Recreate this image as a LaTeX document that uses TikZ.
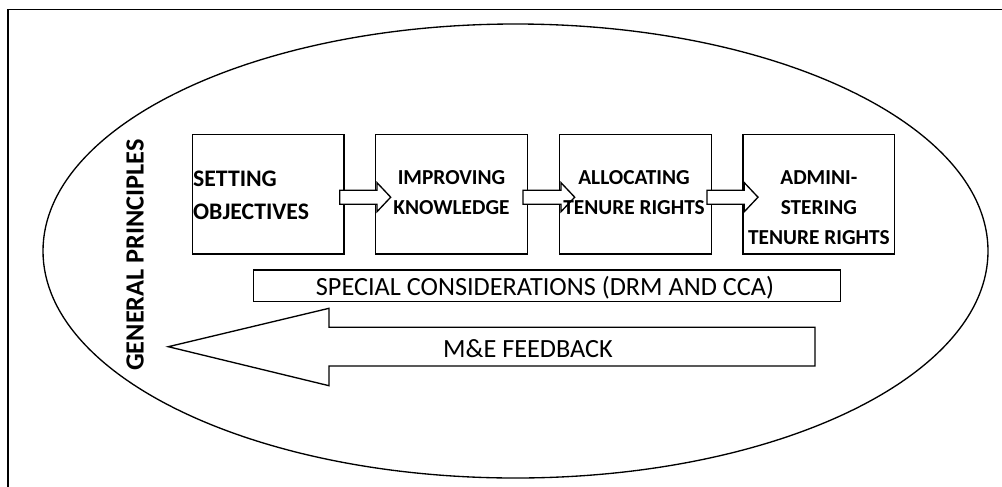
\documentclass[tikz,border=0pt]{standalone}
\usepackage{fontspec}
\setmainfont{Carlito}
\usetikzlibrary{shapes.geometric,calc}
\begin{document}
\begin{tikzpicture}[x=0.75pt,y=-0.75pt,line width=1pt,
  stagebox/.style={draw,rectangle,anchor=north west,minimum width=113.8pt,minimum height=89.5pt,inner sep=0pt},
  stagetext/.style={inner sep=0pt,align=center,font=\bfseries\fontsize{16}{22.5}\selectfont},
  barrow/.style={draw,fill=white,line join=miter},
  plaintext/.style={inner sep=0pt,font=\fontsize{19.7}{24}\selectfont}]
\clip (0,0) rectangle (1002,486);
\fill[white] (0,0) rectangle (1002,486);
\draw[line width=1.1pt] (8,9.5) rectangle (1030,530);
\node[draw,ellipse,minimum width=708.75pt,minimum height=340.5pt,inner sep=0pt] (gp) at (515.5,251) {};
% stage boxes
\node[stagebox] (b1) at (191.7,134) {};
\node[stagebox] (b2) at (375,134) {};
\node[stagebox] (b3) at (559,134) {};
\node[stagebox] (b4) at (742.3,134) {};
% block arrows between stages
\foreach \a/\b in {b1/b2,b2/b3,b3/b4}{
  \draw[barrow] ($(\a.east)+(-5,-4.15)$) -- ($(\b.west)+(2,-4.15)$) -- ($(\b.west)+(2,-11.65)$)
    -- ($(\b.west)+(15.7,2.85)$) -- ($(\b.west)+(2,17.35)$) -- ($(\b.west)+(2,9.85)$)
    -- ($(\a.east)+(-5,9.85)$) -- cycle;
}
% stage texts
\node[stagetext,anchor=north west,align=left,font=\bfseries\fontsize{17.8}{24.75}\selectfont] (t1) at (192.5,170) {SETTING\\OBJECTIVES};
\node[stagetext,anchor=north] (t2) at ($(b2.north)+(0,36)$) {IMPROVING\\KNOWLEDGE};
\node[stagetext,anchor=north] (t3) at ($(b3.north)+(-1.5,36)$) {ALLOCATING\\TENURE RIGHTS};
\node[stagetext,anchor=north] (t4) at ($(b4.north)+(0,36)$) {ADMINI-\\STERING\\TENURE RIGHTS};
% special considerations
\node[draw,rectangle,anchor=north west,minimum width=440.5pt,minimum height=23.55pt,inner sep=0pt] (sc) at (252.7,269.3) {};
\node[plaintext,anchor=base] (sct) at (545,295) {SPECIAL CONSIDERATIONS (DRM AND CCA)};
% M&E feedback arrow
\draw[barrow] (815,327.3) -- (329,327.3) -- (329,308.3) -- (168.3,346.7) -- (329,385.7) -- (329,366) -- (815,366) -- cycle;
\node[plaintext,anchor=base] (me) at (528,357.7) {M\&E FEEDBACK};
% general principles
\node[inner sep=0pt,rotate=90,font=\bfseries\fontsize{19.7}{24}\selectfont] (gpt) at (135,255) {GENERAL PRINCIPLES};
\end{tikzpicture}
\end{document}
